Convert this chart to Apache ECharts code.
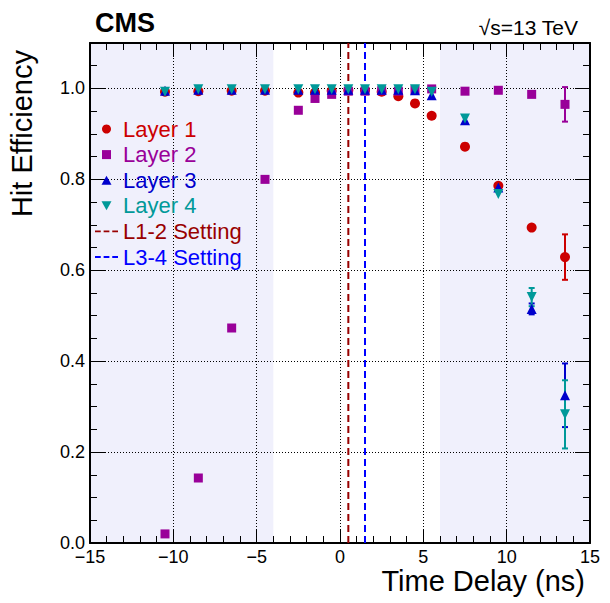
<!DOCTYPE html>
<html>
<head>
<meta charset="utf-8">
<script src="https://cdn.jsdelivr.net/npm/echarts@6/dist/echarts.min.js"></script>
<style>
  html, body { margin: 0; padding: 0; background: #fff; }
  #chart { width: 610px; height: 603px; }
</style>
</head>
<body>
<div id="chart"></div>
<script>
// time delay of each scan point (ns)
var delays = [-10.5, -8.5, -6.5, -4.5, -2.5, -1.5, -0.5, 0.5, 1.5, 2.5, 3.5, 4.5, 5.5, 7.5, 9.5, 11.5, 13.5];

var layer1 = [0.993, 0.994, 0.995, 0.995, 0.991, 0.991, 0.995, 0.996, 0.996, 0.993, 0.983, 0.967, 0.940, 0.872, 0.786, 0.694, 0.629];
var layer2 = [0.020, 0.143, 0.473, 0.800, 0.952, 0.978, 0.987, 0.994, 0.994, 0.995, 0.994, 0.997, 0.999, 0.994, 0.996, 0.987, 0.965];
var layer3 = [0.995, 0.997, 0.997, 0.997, 0.997, 0.997, 0.997, 0.997, 0.997, 0.997, 0.997, 0.996, 0.985, 0.930, 0.782, 0.515, 0.325];
var layer4 = [0.993, 0.998, 0.998, 0.998, 0.998, 0.998, 0.998, 0.998, 0.998, 0.998, 0.998, 0.998, 0.993, 0.934, 0.768, 0.541, 0.283];

// errors (only the visible ones are non zero)
var err1 = [0, 0, 0, 0, 0, 0, 0, 0, 0, 0, 0, 0, 0, 0, 0, 0, 0.050];
var err2 = [0, 0, 0, 0, 0, 0, 0, 0, 0, 0, 0, 0, 0, 0, 0, 0, 0.038];
var err3 = [0, 0, 0, 0, 0, 0, 0, 0, 0, 0, 0, 0, 0, 0, 0, 0.012, 0.070];
var err4 = [0, 0, 0, 0, 0, 0, 0, 0, 0, 0, 0, 0, 0, 0, 0, 0.020, 0.075];

// delay settings (ns)
var setting12 = 0.5;
var setting34 = 1.5;

// shaded delay ranges
var shaded = [[-15, -4], [6, 15]];

var xTicks = [-15, 15, 5];
var yTicks = [0, 1.1, 0.2];

var FONT = 'Liberation Sans, Arial, Helvetica, sans-serif';
var colors = ['#cc0000', '#990099', '#0000cc', '#009999'];

var SQUARE = 'path://M0,0H10V10H0Z';
var TRI_UP = 'path://M5,0L10,9L0,9Z';
var TRI_DOWN = 'path://M0,0L10,0L5,9Z';
var DASHES = 'path://M0,0H6V2H0Z M9,0H15V2H9Z M18,0H24V2H18Z';

function pts(ys) {
  return delays.map(function (d, i) { return [d, ys[i]]; });
}
function errPts(ys, es) {
  var out = [];
  delays.forEach(function (d, i) {
    if (es[i] > 0) out.push([d, ys[i], es[i]]);
  });
  return out;
}

function errorSeries(name, ys, es, color) {
  return {
    name: name,
    type: 'custom',
    silent: true,
    z: 3,
    encode: { x: 0, y: 1 },
    data: errPts(ys, es),
    renderItem: function (params, api) {
      var x = api.value(0), y = api.value(1), e = api.value(2);
      var hi = api.coord([x, y + e]);
      var lo = api.coord([x, y - e]);
      var st = { stroke: color, lineWidth: 2 };
      return {
        type: 'group',
        children: [
          { type: 'line', shape: { x1: hi[0], y1: hi[1], x2: lo[0], y2: lo[1] }, style: st },
          { type: 'line', shape: { x1: hi[0] - 3, y1: hi[1], x2: hi[0] + 3, y2: hi[1] }, style: st },
          { type: 'line', shape: { x1: lo[0] - 3, y1: lo[1], x2: lo[0] + 3, y2: lo[1] }, style: st }
        ]
      };
    }
  };
}

function markerSeries(name, ys, symbol, color, size) {
  return {
    name: name,
    type: 'scatter',
    symbol: symbol,
    symbolSize: size,
    itemStyle: { color: color, opacity: 1 },
    z: 4,
    data: pts(ys)
  };
}

function settingSeries(name, x, color) {
  return {
    name: name,
    type: 'line',
    symbol: 'none',
    z: 2,
    lineStyle: { color: color, width: 2, type: [7, 4] },
    itemStyle: { color: color },
    data: [[x, yTicks[0]], [x, yTicks[1]]]
  };
}

var tickStyle = { color: '#000', width: 1 };
var frameLine = { show: true, onZero: false, lineStyle: { color: '#000', width: 2 } };
var noLine = { show: false, onZero: false };

var chart = echarts.init(document.getElementById('chart'), null, { renderer: 'svg' });

chart.setOption({
  animation: false,
  backgroundColor: '#fff',
  grid: { left: 90, right: 20, top: 43, bottom: 60 },
  xAxis: [
    {
      type: 'value', position: 'bottom', min: xTicks[0], max: xTicks[1], interval: xTicks[2],
      z: 1,
      axisLine: frameLine,
      axisTick: { inside: true, length: 14, lineStyle: tickStyle },
      minorTick: { show: true, splitNumber: 5, length: 7, lineStyle: tickStyle },
      axisLabel: {
        color: '#000', fontSize: 18, fontFamily: FONT, margin: 5,
        formatter: function (v) { return v < 0 ? '\u2212' + (-v) : String(v); }
      },
      splitLine: { show: true, lineStyle: { color: '#000', width: 1, type: [1, 2] } }
    },
    {
      type: 'value', position: 'top', min: xTicks[0], max: xTicks[1], interval: xTicks[2],
      z: 1,
      axisLine: frameLine,
      axisTick: { inside: true, length: 14, lineStyle: tickStyle },
      minorTick: { show: true, splitNumber: 5, length: 7, lineStyle: tickStyle },
      axisLabel: { show: false },
      splitLine: { show: false }
    }
  ],
  yAxis: [
    {
      type: 'value', position: 'left', min: yTicks[0], max: yTicks[1], interval: yTicks[2],
      z: 1,
      axisLine: frameLine,
      axisTick: { inside: true, length: 15, lineStyle: tickStyle },
      axisLabel: {
        color: '#000', fontSize: 18, fontFamily: FONT, margin: 5, showMaxLabel: false,
        formatter: function (v) { return v.toFixed(1); }
      },
      splitLine: { show: true, lineStyle: { color: '#000', width: 1, type: [1, 2] } }
    },
    {
      type: 'value', position: 'left', min: yTicks[0], max: yTicks[1], interval: yTicks[2] / 4,
      z: 1,
      axisLine: noLine,
      axisTick: { inside: true, length: 7, lineStyle: tickStyle },
      axisLabel: { show: false },
      splitLine: { show: false }
    },
    {
      type: 'value', position: 'right', min: yTicks[0], max: yTicks[1], interval: yTicks[2],
      z: 1,
      axisLine: frameLine,
      axisTick: { inside: true, length: 15, lineStyle: tickStyle },
      axisLabel: { show: false },
      splitLine: { show: false }
    },
    {
      type: 'value', position: 'right', min: yTicks[0], max: yTicks[1], interval: yTicks[2] / 4,
      z: 1,
      axisLine: noLine,
      axisTick: { inside: true, length: 7, lineStyle: tickStyle },
      axisLabel: { show: false },
      splitLine: { show: false }
    }
  ],
  legend: {
    orient: 'vertical',
    left: 95,
    top: 118,
    padding: 0,
    itemWidth: 23,
    itemHeight: 9,
    itemGap: 3.6,
    selectedMode: false,
    textStyle: { fontSize: 22, fontFamily: FONT },
    data: [
      { name: 'Layer 1', icon: 'circle', textStyle: { color: colors[0] } },
      { name: 'Layer 2', icon: SQUARE, textStyle: { color: colors[1] } },
      { name: 'Layer 3', icon: TRI_UP, textStyle: { color: colors[2] } },
      { name: 'Layer 4', icon: TRI_DOWN, textStyle: { color: colors[3] } },
      { name: 'L1-2 Setting', icon: DASHES, textStyle: { color: '#990000' } },
      { name: 'L3-4 Setting', icon: DASHES, textStyle: { color: '#0000ff' } }
    ]
  },
  graphic: [
    { type: 'text', x: 95, y: 23, style: { text: 'CMS', font: 'bold 27px ' + FONT, fill: '#000', verticalAlign: 'middle' } },
    { type: 'text', x: 578, y: 27, style: { text: '\u221As=13 TeV', font: '21px ' + FONT, fill: '#000', align: 'right', verticalAlign: 'middle' } },
    { type: 'text', x: 22, y: 50, rotation: Math.PI / 2, style: { text: 'Hit Efficiency', font: '29px ' + FONT, fill: '#000', align: 'right', verticalAlign: 'middle' } },
    { type: 'text', x: 585, y: 581, style: { text: 'Time Delay (ns)', font: '29px ' + FONT, fill: '#000', align: 'right', verticalAlign: 'middle' } }
  ],
  series: [
    {
      name: 'shade',
      type: 'custom',
      silent: true,
      z: -1,
      data: shaded,
      renderItem: function (params, api) {
        var a = api.coord([api.value(0), yTicks[1]]);
        var b = api.coord([api.value(1), yTicks[0]]);
        return {
          type: 'rect',
          shape: { x: a[0], y: a[1], width: b[0] - a[0], height: b[1] - a[1] },
          style: { fill: '#f0f0fc' }
        };
      }
    },
    settingSeries('L1-2 Setting', setting12, '#990000'),
    settingSeries('L3-4 Setting', setting34, '#0000ff'),
    errorSeries('e1', layer1, err1, colors[0]),
    errorSeries('e2', layer2, err2, colors[1]),
    errorSeries('e3', layer3, err3, colors[2]),
    errorSeries('e4', layer4, err4, colors[3]),
    markerSeries('Layer 1', layer1, 'circle', colors[0], 10),
    markerSeries('Layer 2', layer2, SQUARE, colors[1], 9),
    markerSeries('Layer 3', layer3, TRI_UP, colors[2], 10),
    markerSeries('Layer 4', layer4, TRI_DOWN, colors[3], 10)
  ]
});
</script>
</body>
</html>
